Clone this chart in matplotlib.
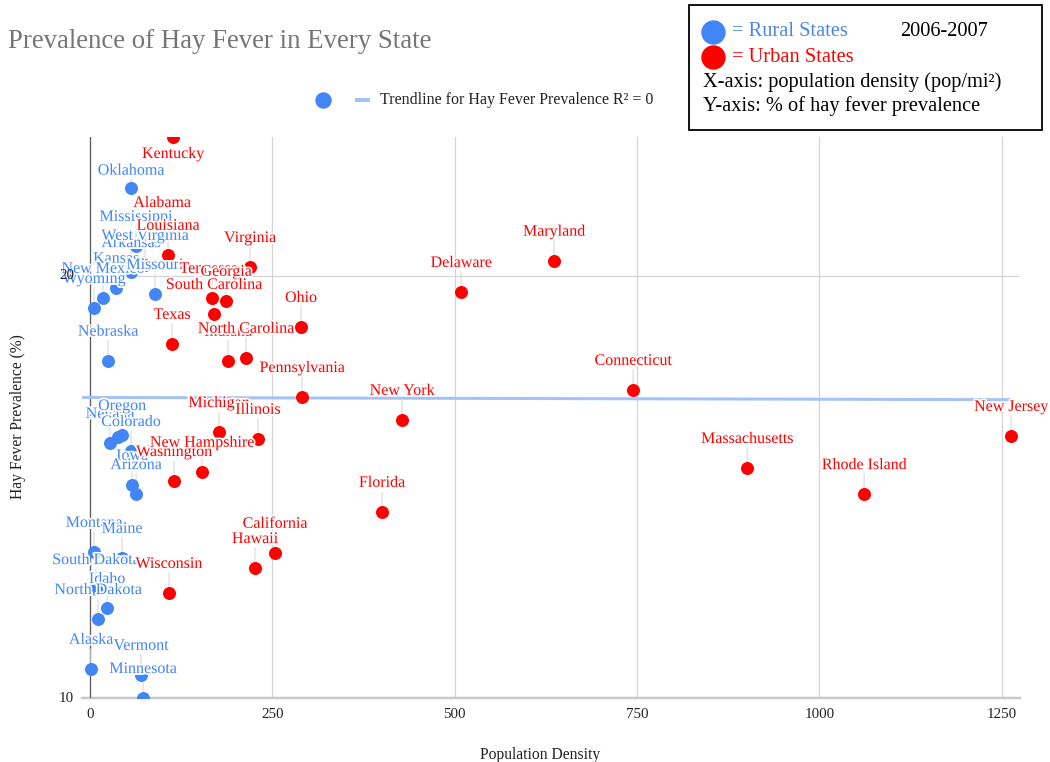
import matplotlib
matplotlib.use('Agg')
import matplotlib.pyplot as plt
import matplotlib.patheffects as pe
import matplotlib.transforms as mtrans
from matplotlib.lines import Line2D
from matplotlib.patches import Rectangle
import numpy as np

plt.rcParams['font.family'] = ['Liberation Serif', 'DejaVu Serif']

# ---------------- data ----------------
rural_states = ['Oklahoma', 'Mississippi', 'Arkansas', 'West Virginia', 'Kansas',
                'Wyoming', 'New Mexico', 'Missouri', 'Nebraska', 'Utah', 'Nevada',
                'Oregon', 'Colorado', 'Iowa', 'Arizona', 'Montana', 'Maine',
                'South Dakota', 'Idaho', 'North Dakota', 'Alaska', 'Vermont', 'Minnesota']
rural_density = [56.2, 63.1, 56.2, 75.4, 35.7,
                 5.5, 17.8, 89.1, 24.7, 38.4, 27.4,
                 43.9, 56.2, 57.6, 63.1, 5.5, 43.9,
                 8.0, 23.3, 11.0, 1.4, 69.9, 72.7]
rural_prev = [22.09, 20.71, 20.09, 20.26, 19.72,
              19.24, 19.48, 19.57, 17.99, 16.18, 16.04,
              16.23, 15.85, 15.05, 14.83, 13.46, 13.32,
              12.58, 12.13, 11.87, 10.69, 10.55, 10.00]

urban_states = ['Kentucky', 'Alabama', 'Louisiana', 'Virginia', 'Tennessee', 'Georgia',
                'South Carolina', 'Texas', 'Indiana', 'North Carolina', 'Ohio',
                'Pennsylvania', 'Michigan', 'Illinois', 'Washington', 'New Hampshire',
                'California', 'Hawaii', 'Wisconsin', 'Florida', 'Delaware', 'Maryland',
                'New York', 'Connecticut', 'Massachusetts', 'Rhode Island', 'New Jersey']
urban_density = [113.8, 98.7, 107.0, 219.4, 167.3, 186.5,
                 170.0, 112.4, 189.2, 213.9, 289.3,
                 290.7, 176.9, 230.4, 115.2, 153.6,
                 253.7, 226.2, 108.3, 400.4, 508.7, 636.2,
                 427.8, 744.6, 900.9, 1061.3, 1262.8]
urban_prev = [23.29, 21.04, 20.50, 20.21, 19.48, 19.41,
              19.10, 18.39, 17.99, 18.06, 18.79,
              17.13, 16.30, 16.14, 15.14, 15.36,
              13.44, 13.08, 12.49, 14.41, 19.62, 20.36,
              16.59, 17.30, 15.45, 14.83, 16.21]

trend_intercept = 17.12
trend_slope = -0.000042
trend_x_range = [-11, 1263]

x_ticks = [0, 250, 500, 750, 1000, 1250]
y_ticks = [10, 20]

# label placement (pixels above the point); exceptions only
label_offset_default = 29
label_offset = {'Oklahoma': 17, 'Kentucky': -17}
hidden_labels = {'Utah'}

# ---------------- styling ----------------
BLUE = '#4285f4'
RED = '#ff0000'
TREND = '#a4c2f4'
W, H = 1050, 762
PT = 0.72  # points per pixel at dpi 100


def fx(px):
    return px / W


def fy(py):
    return 1 - py / H


fig = plt.figure(figsize=(W / 100, H / 100), dpi=100)
ax = fig.add_axes([fx(82), fy(698), (1020 - 82) / W, (698 - 137) / H])
ax.set_xlim(-11, 1275)
ax.set_ylim(10, 23.29)

for s in ax.spines.values():
    s.set_visible(False)

ax.set_xticks(x_ticks)
ax.set_yticks(y_ticks)
ax.set_xticklabels([str(t) for t in x_ticks])
ax.set_yticklabels([])
ax.tick_params(length=0, labelsize=15 * PT, labelcolor='#222222')
ax.tick_params(axis='x', pad=10 * PT)
ax.grid(True, color='#d4d4d4', lw=1.2 * PT, zorder=0)
ax.set_axisbelow(True)

# y tick labels drawn on top of the point labels (as in the reference)
ytrans = mtrans.blended_transform_factory(fig.transFigure, ax.transData)
for t in y_ticks:
    ax.text(fx(74), t, str(t), transform=ytrans, ha='right', va='center',
            fontsize=15 * PT, color='#222222', zorder=30, clip_on=False)

ax.axhline(10, color='#c8c8c8', lw=2.5 * PT, zorder=1, clip_on=False)
ax.axvline(0, color='#5f5f5f', lw=1.3 * PT, zorder=1)

tx = np.array(trend_x_range, dtype=float)
ax.plot(tx, trend_intercept + trend_slope * tx, color=TREND, lw=3 * PT,
        solid_capstyle='butt', zorder=2)

msize = (13 * PT) ** 2
ax.scatter(rural_density, rural_prev, s=msize, color=BLUE, linewidths=0, zorder=4)
ax.scatter(urban_density, urban_prev, s=msize, color=RED, linewidths=0, zorder=4)

halo = [pe.withStroke(linewidth=2.5, foreground='white')]
z = 5.0
for names, xs, ys, col in [(rural_states, rural_density, rural_prev, BLUE),
                           (urban_states, urban_density, urban_prev, RED)]:
    for n, xv, yv in zip(names, xs, ys):
        if n in hidden_labels:
            continue
        dy = label_offset.get(n, label_offset_default)
        # leader line (beneath the dots)
        ax.annotate('', (xv, yv), xytext=(0, dy), textcoords='offset pixels',
                    zorder=3, annotation_clip=False,
                    arrowprops=dict(arrowstyle='-', color='#e0e0e0', lw=1.0,
                                    shrinkA=9 * PT, shrinkB=0))
        # label text
        ax.annotate(n, (xv, yv), xytext=(0, dy), textcoords='offset pixels',
                    ha='center', va='center', fontsize=16 * PT, color=col,
                    path_effects=halo, zorder=z, annotation_clip=False)
        z += 0.01

# axis titles
fig.text(fx(540), fy(755), 'Population Density', ha='center', va='center',
         fontsize=15.6 * PT, color='#222222')
fig.text(fx(18), fy(417), 'Hay Fever Prevalence (%)', ha='center', va='center',
         rotation=90, fontsize=15.6 * PT, color='#222222')

# title
fig.text(fx(8), fy(42), 'Prevalence of Hay Fever in Every State', ha='left',
         va='center', fontsize=26.8 * PT, color='#757575')

# top legend
fig.add_artist(Line2D([fx(323)], [fy(100)], marker='o', ms=15 * PT, color=BLUE,
                      lw=0, transform=fig.transFigure))
fig.add_artist(Line2D([fx(355), fx(370)], [fy(100), fy(100)], color=TREND,
                      lw=4 * PT, transform=fig.transFigure, solid_capstyle='butt'))
fig.text(fx(380), fy(100), 'Trendline for Hay Fever Prevalence R² = 0', ha='left',
         va='center', fontsize=16 * PT, color='#222222')

# info box
fig.add_artist(Rectangle((fx(689), fy(130)), (1042 - 689) / W, (130 - 5) / H,
                         transform=fig.transFigure, fill=False, ec='black', lw=1.3))
fig.add_artist(Line2D([fx(713)], [fy(32)], marker='o', ms=23 * PT, color=BLUE,
                      lw=0, transform=fig.transFigure))
fig.add_artist(Line2D([fx(713)], [fy(57)], marker='o', ms=23 * PT, color=RED,
                      lw=0, transform=fig.transFigure))
box_fs = 20.4 * PT
fig.text(fx(732), fy(32), '= Rural States', ha='left', va='center', fontsize=box_fs,
         color='#4a86e8')
fig.text(fx(900), fy(32), '2006-2007', ha='left', va='center', fontsize=box_fs,
         color='black')
fig.text(fx(732), fy(57), '= Urban States', ha='left', va='center', fontsize=box_fs,
         color=RED)
fig.text(fx(703), fy(82), 'X-axis: population density (pop/mi²)', ha='left',
         va='center', fontsize=box_fs, color='black')
fig.text(fx(703), fy(106), 'Y-axis: % of hay fever prevalence', ha='left',
         va='center', fontsize=box_fs, color='black')

fig.savefig('out.png', dpi=100)
